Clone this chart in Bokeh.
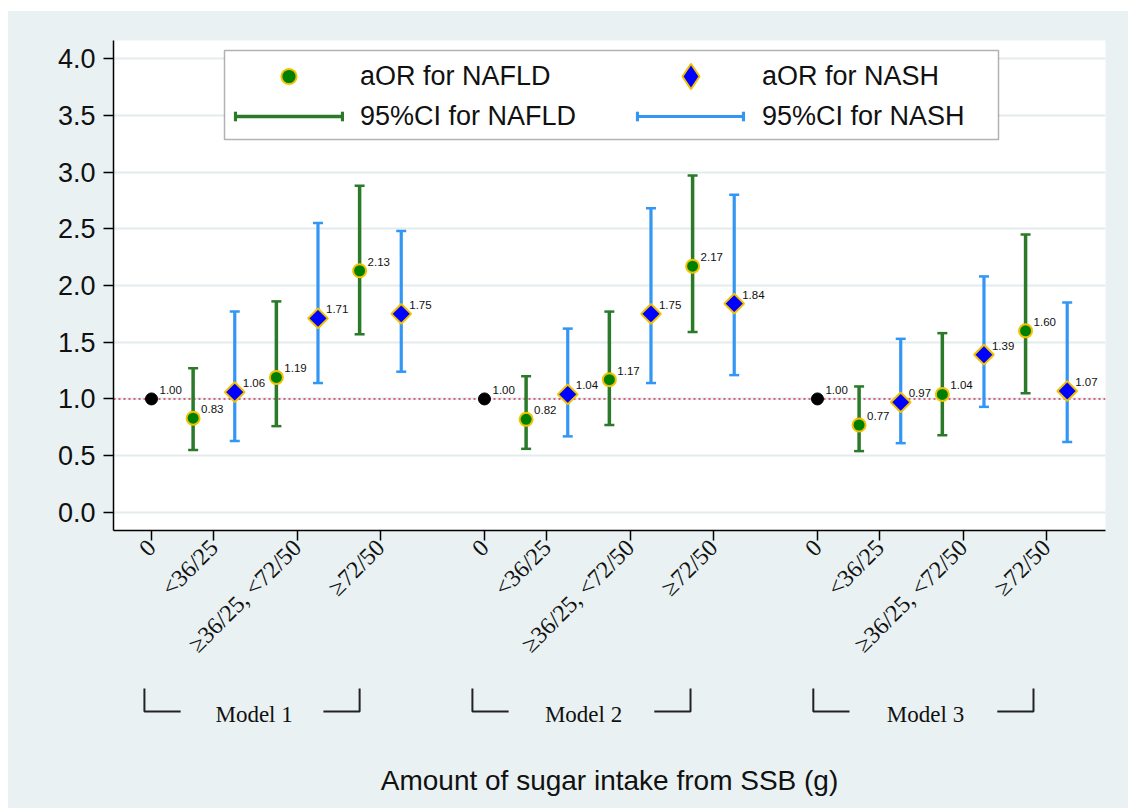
import math
from bokeh.plotting import figure
from bokeh.layouts import column
from bokeh.models import (ColumnDataSource, Range1d, FixedTicker, Span,
                          Legend, LegendItem, BoxAnnotation, PrintfTickFormatter)
from bokeh.embed import file_html
from bokeh.resources import INLINE
from bokeh.core.properties import value

# ---------------- data ----------------
models = ["Model 1", "Model 2", "Model 3"]
intake_labels = ["0", "<36/25", "≥36/25, <72/50", "≥72/50"]

reference_or = [1.00, 1.00, 1.00]

nafld_aor = [[0.83, 1.19, 2.13], [0.82, 1.17, 2.17], [0.77, 1.04, 1.60]]
nafld_lo = [[0.55, 0.76, 1.57], [0.56, 0.77, 1.59], [0.54, 0.68, 1.05]]
nafld_hi = [[1.27, 1.86, 2.88], [1.20, 1.77, 2.97], [1.11, 1.58, 2.45]]

nash_aor = [[1.06, 1.71, 1.75], [1.04, 1.75, 1.84], [0.97, 1.39, 1.07]]
nash_lo = [[0.63, 1.14, 1.24], [0.67, 1.14, 1.21], [0.61, 0.93, 0.62]]
nash_hi = [[1.77, 2.55, 2.48], [1.62, 2.68, 2.80], [1.53, 2.08, 1.85]]

x_title = "Amount of sugar intake from SSB (g)"

# ---------------- positions ----------------
GROUP = 8  # slots per model
ref_x, nf_x, ns_x = [], [], []
nf_v, nf_l, nf_h, ns_v, ns_l, ns_h = [], [], [], [], [], []
tick_pos, tick_lab = [], {}
for m in range(len(models)):
    base = m * GROUP
    ref_x.append(base)
    for k in range(3):
        nf_x.append(base + 1 + 2 * k)
        ns_x.append(base + 2 + 2 * k)
        nf_v.append(nafld_aor[m][k]); nf_l.append(nafld_lo[m][k]); nf_h.append(nafld_hi[m][k])
        ns_v.append(nash_aor[m][k]); ns_l.append(nash_lo[m][k]); ns_h.append(nash_hi[m][k])
    for j, off in enumerate([0, 1.5, 3.5, 5.5]):
        t = float(base + off)
        tick_pos.append(t)
        tick_lab[t] = intake_labels[j]

ref_src = ColumnDataSource(dict(x=ref_x, y=reference_or, t=[f"{v:.2f}" for v in reference_or]))
nf_src = ColumnDataSource(dict(x=nf_x, y=nf_v, lo=nf_l, hi=nf_h, t=[f"{v:.2f}" for v in nf_v]))
ns_src = ColumnDataSource(dict(x=ns_x, y=ns_v, lo=ns_l, hi=ns_h, t=[f"{v:.2f}" for v in ns_v]))

BG = "#e9f1f3"
GREEN_BAR = "#2a7a2a"
BLUE_BAR = "#3396f5"
GOLD = "#f2c200"

xr = Range1d(-0.913, 22.92)

p = figure(width=1120, height=659, output_backend="svg", toolbar_location=None, tools="",
           x_range=xr, y_range=Range1d(-0.16, 4.16),
           min_border_left=105, min_border_right=23, min_border_top=29, min_border_bottom=140,
           background_fill_color="white", border_fill_color=BG, outline_line_color=None)

# axes
for ax in (p.xaxis[0], p.yaxis[0]):
    ax.axis_line_color = "black"
    ax.axis_line_width = 1.5
    ax.major_tick_line_color = "black"
    ax.major_tick_line_width = 1.5
    ax.major_tick_out = 10
    ax.major_tick_in = 0
    ax.minor_tick_line_color = None
    ax.major_label_text_color = "#111111"

yticks = [i * 0.5 for i in range(9)]
p.yaxis.ticker = FixedTicker(ticks=yticks)
p.yaxis.formatter = PrintfTickFormatter(format="%.1f")
p.yaxis.major_label_text_font = "Liberation Sans"
p.yaxis.major_label_text_font_size = "27px"
p.yaxis.major_label_standoff = 8

p.xaxis.ticker = FixedTicker(ticks=tick_pos)
p.xaxis.major_label_overrides = tick_lab
p.xaxis.major_label_orientation = math.pi / 4
p.xaxis.major_label_text_font = "Liberation Serif"
p.xaxis.major_label_text_font_size = "24px"
p.xaxis.major_label_standoff = 3

p.xgrid.grid_line_color = None
p.ygrid.ticker = FixedTicker(ticks=yticks)
p.ygrid.grid_line_color = "#e3ebee"
p.ygrid.grid_line_width = 2

# reference line
p.add_layout(Span(location=1.0, dimension="width", line_color="#cc3355",
                  line_dash="2 3", line_width=1.5, level="underlay"))

# error bars
bar_nf = p.segment(x0="x", y0="lo", x1="x", y1="hi", source=nf_src, line_color=GREEN_BAR, line_width=3.5)
p.scatter(x="x", y="lo", source=nf_src, marker="dash", size=10, line_color=GREEN_BAR, line_width=2.5)
p.scatter(x="x", y="hi", source=nf_src, marker="dash", size=10, line_color=GREEN_BAR, line_width=2.5)

bar_ns = p.segment(x0="x", y0="lo", x1="x", y1="hi", source=ns_src, line_color=BLUE_BAR, line_width=3.2)
p.scatter(x="x", y="lo", source=ns_src, marker="dash", size=10, line_color=BLUE_BAR, line_width=2.5)
p.scatter(x="x", y="hi", source=ns_src, marker="dash", size=10, line_color=BLUE_BAR, line_width=2.5)

# zero-size bars whose legend symbol gives the small end caps of the CI key
cap_nf = p.vbar(x="x", top="hi", bottom="hi", width=0, source=nf_src,
                fill_color=GREEN_BAR, line_color=None)
cap_ns = p.vbar(x="x", top="hi", bottom="hi", width=0, source=ns_src,
                fill_color=BLUE_BAR, line_color=None)

# points
p.scatter(x="x", y="y", source=ref_src, marker="circle", size=12, fill_color="black", line_color="black")
pt_nf = p.scatter(x="x", y="y", source=nf_src, marker="circle", size=13,
                  fill_color="#008000", line_color=GOLD, line_width=2)
# diamond glyph used for the legend symbol (covered by the rotated squares below)
pt_ns_leg = p.scatter(x="x", y="y", source=ns_src, marker="diamond", size=12,
                      fill_color="#0000ff", line_color=GOLD, line_width=2)
p.scatter(x="x", y="y", source=ns_src, marker="square", angle=math.pi / 4, size=14,
          fill_color="#0000ff", line_color=GOLD, line_width=2)

# value labels
for src in (ref_src, nf_src, ns_src):
    p.text(x="x", y="y", text="t", source=src, x_offset=8, y_offset=-9,
           text_font=value("Liberation Sans"), text_font_size="11.5px",
           text_color="#111111", text_baseline="middle", text_align="left")

# legend frame + legend columns
p.add_layout(BoxAnnotation(left=111, right=885, bottom=391, top=480,
                           left_units="screen", right_units="screen",
                           bottom_units="screen", top_units="screen",
                           fill_color="white", fill_alpha=1.0,
                           line_color="black", line_width=1.5, level="annotation"))

leg_common = dict(border_line_color=None, background_fill_alpha=0.0, padding=6, margin=0,
                  glyph_width=107, label_standoff=18, spacing=2,
                  label_text_font="Liberation Sans", label_text_font_size="27px",
                  label_text_color="#111111")
legends = [
    Legend(items=[LegendItem(label="aOR for NAFLD", renderers=[pt_nf]),
                  LegendItem(label="95%CI for NAFLD", renderers=[bar_nf])],
           location=(122, 395), glyph_height=38, **leg_common),
    Legend(items=[LegendItem(label="aOR for NASH", renderers=[pt_ns_leg])],
           location=(524, 422), **{**leg_common, "glyph_height": 64}),
    Legend(items=[LegendItem(label="95%CI for NASH", renderers=[bar_ns])],
           location=(524, 395), glyph_height=38, **leg_common),
]
cap_common = dict(border_line_color=None, background_fill_alpha=0.0, padding=6, margin=0,
                  glyph_width=4, glyph_height=12, label_standoff=0, label_width=0,
                  label_text_font_size="1px", label_text_alpha=0.0)
for loc_x, rend in ((120, cap_nf), (227, cap_nf), (522, cap_ns), (628, cap_ns)):
    legends.append(Legend(items=[LegendItem(label=" ", renderers=[rend])],
                          location=(loc_x, 408), **cap_common))
for lg in legends:
    p.add_layout(lg)

# ---------------- lower strip: model brackets + axis title ----------------
q = figure(width=1120, height=138, output_backend="svg", toolbar_location=None, tools="",
           x_range=xr, y_range=Range1d(138, 0), x_axis_location=None, y_axis_location=None,
           min_border_left=105, min_border_right=23, min_border_top=0, min_border_bottom=0,
           background_fill_color=BG, border_fill_color=BG, outline_line_color=None)
q.grid.visible = False

bracket_left = [-0.17, 7.71, 15.9]
bracket_right = [5.0, 12.95, 21.19]
ARM = 0.87
Y_TOP, Y_BOT = 18, 41
bx, by = [], []
for xl, xrr in zip(bracket_left, bracket_right):
    bx.append([xl, xl, xl + ARM]); by.append([Y_TOP, Y_BOT, Y_BOT])
    bx.append([xrr - ARM, xrr, xrr]); by.append([Y_BOT, Y_BOT, Y_TOP])
q.multi_line(xs=bx, ys=by, line_color="#222222", line_width=2)

q.text(x=[(a + b) / 2 + 0.05 for a, b in zip(bracket_left, bracket_right)], y=[44] * 3, text=models,
       text_font=value("Liberation Serif"), text_font_size="23px", text_color="#111111",
       text_align="center", text_baseline="alphabetic")

q.text(x=[(xr.start + xr.end) / 2], y=[110], text=[x_title],
       text_font=value("Liberation Sans"), text_font_size="28px", text_color="#111111",
       text_align="center", text_baseline="alphabetic")

layout = column(p, q, spacing=0, margin=(11, 0, 0, 8),
                styles={"background-color": BG})
open("out.html", "w").write(file_html(layout, INLINE))
